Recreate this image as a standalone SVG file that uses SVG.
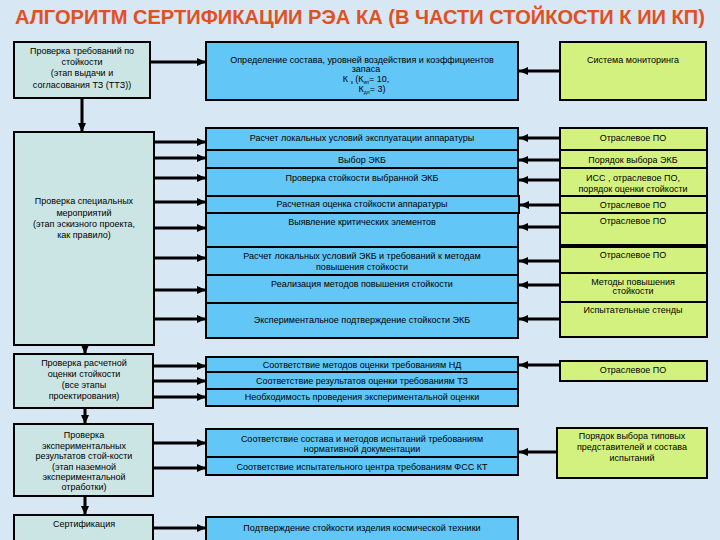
<svg xmlns="http://www.w3.org/2000/svg" width="720" height="540" viewBox="0 0 720 540">
<style>
.bg{fill:#D8E7F4}
.l{fill:#CBE5E4;stroke:#000;stroke-width:2}
.m{fill:#62C6F6;stroke:#000;stroke-width:2}
.r{fill:#D3F17E;stroke:#000;stroke-width:2}
.t{font-family:"Liberation Sans",Arial,sans-serif;font-size:9px;text-anchor:middle;fill:#000}
.s{font-size:5px}
.c line{stroke:#000;stroke-width:3}
.title{font-family:"Liberation Sans",Arial,sans-serif;font-size:20px;font-weight:bold;fill:#E2501E;text-anchor:middle}
</style>
<defs>
<marker id="ah" markerUnits="userSpaceOnUse" markerWidth="9" markerHeight="8" refX="9" refY="4" orient="auto">
<path d="M0,0 L9,4 L0,8 z" fill="#000"/>
</marker>
</defs>
<rect class="bg" x="0" y="0" width="720" height="540"/>
<text class="title" x="360" y="24" textLength="690" lengthAdjust="spacingAndGlyphs">АЛГОРИТМ СЕРТИФИКАЦИИ РЭА КА (В ЧАСТИ СТОЙКОСТИ К ИИ КП)</text>

<g id="left-a"><rect class="l" x="14" y="42" width="136" height="56"/>
<text class="t" x="82" y="54">Проверка требований по</text>
<text class="t" x="82" y="65">стойкости</text>
<text class="t" x="82" y="76">(этап выдачи и</text>
<text class="t" x="82" y="88">согласования ТЗ (ТТЗ))</text></g>

<g id="mid-top"><rect class="m" x="206" y="42" width="312" height="58"/>
<text class="t" x="362" y="63">Определение состава, уровней воздействия и коэффициентов</text>
<text class="t" x="366" y="72">запаса</text>
<text class="t" x="366" y="82">К <tspan class="s" dy="1.5">з</tspan><tspan dy="-1.5"> (К</tspan><tspan class="s" dy="1.5">ип</tspan><tspan dy="-1.5">= 10,</tspan></text>
<text class="t" x="372" y="92">К<tspan class="s" dy="1.5">дл</tspan><tspan dy="-1.5">= 3)</tspan></text></g>

<g id="right-top"><rect class="r" x="560" y="42" width="146" height="58"/>
<text class="t" x="633" y="63">Система мониторинга</text></g>

<g id="left-b"><rect class="l" x="14" y="132" width="140" height="213"/>
<text class="t" x="84" y="204">Проверка специальных</text>
<text class="t" x="84" y="216">мероприятий</text>
<text class="t" x="84" y="227">(этап эскизного проекта,</text>
<text class="t" x="84" y="238">как правило)</text></g>

<g id="mid-1">
<rect class="m" x="206" y="128" width="312" height="22"/><text class="t" x="362" y="141">Расчет локальных  условий  эксплуатации аппаратуры</text>
<rect class="m" x="206" y="150" width="312" height="18"/><text class="t" x="362" y="163">Выбор ЭКБ</text>
<rect class="m" x="206" y="168" width="312" height="28"/><text class="t" x="362" y="181">Проверка стойкости выбранной ЭКБ</text>
<rect class="m" x="206" y="196" width="313" height="17"/><text class="t" x="362" y="207">Расчетная оценка стойкости аппаратуры</text>
<rect class="m" x="206" y="213" width="312" height="34"/><text class="t" x="362" y="225">Выявление критических элементов</text>
<rect class="m" x="206" y="247" width="312" height="28"/><text class="t" x="362" y="259">Расчет локальных условий ЭКБ и требований к методам</text><text class="t" x="362" y="270">повышения стойкости</text>
<rect class="m" x="206" y="275" width="312" height="28"/><text class="t" x="362" y="287">Реализация методов повышения стойкости</text>
<rect class="m" x="206" y="303" width="312" height="35"/><text class="t" x="362" y="323">Экспериментальное подтверждение   стойкости ЭКБ</text>
</g>

<g id="right-1">
<rect class="r" x="560" y="128" width="147" height="22"/><text class="t" x="633" y="141">Отраслевое ПО</text>
<rect class="r" x="560" y="150" width="147" height="18"/><text class="t" x="633" y="163">Порядок выбора ЭКБ</text>
<rect class="r" x="560" y="168" width="147" height="28"/><text class="t" x="633" y="181">ИСС , отраслевое ПО,</text><text class="t" x="633" y="192">порядок оценки стойкости</text>
<rect class="r" x="560" y="196" width="147" height="17"/><text class="t" x="633" y="208">Отраслевое ПО</text>
<rect class="r" x="560" y="213" width="147" height="32"/><text class="t" x="633" y="224">Отраслевое ПО</text>
<rect class="r" x="560" y="247" width="147" height="26"/><text class="t" x="633" y="258">Отраслевое ПО</text>
<rect class="r" x="560" y="273" width="147" height="29"/><text class="t" x="633" y="285">Методы повышения</text><text class="t" x="633" y="294">стойкости</text>
<rect class="r" x="560" y="302" width="147" height="35"/><text class="t" x="633" y="313">Испытательные стенды</text>
</g>

<g id="left-c"><rect class="l" x="14" y="354" width="139" height="54"/>
<text class="t" x="84" y="366">Проверка расчетной</text>
<text class="t" x="84" y="377">оценки стойкости</text>
<text class="t" x="84" y="388">(все этапы</text>
<text class="t" x="84" y="399">проектирования)</text></g>

<g id="mid-2">
<rect class="m" x="206" y="357" width="312" height="15"/><text class="t" x="362" y="368">Соответствие методов оценки требованиям НД</text>
<rect class="m" x="206" y="372" width="312" height="17"/><text class="t" x="362" y="384">Соответствие результатов оценки требованиям ТЗ</text>
<rect class="m" x="206" y="389" width="312" height="17"/><text class="t" x="362" y="400">Необходимость проведения экспериментальной оценки</text>
</g>

<g id="right-2"><rect class="r" x="560" y="361" width="147" height="20"/>
<text class="t" x="633" y="373">Отраслевое ПО</text></g>

<g id="left-d"><rect class="l" x="14" y="424" width="139" height="72"/>
<text class="t" x="84" y="438">Проверка</text>
<text class="t" x="84" y="449">экспериментальных</text>
<text class="t" x="84" y="459">результатов стой-кости</text>
<text class="t" x="84" y="470">(этап наземной</text>
<text class="t" x="84" y="480">экспериментальной</text>
<text class="t" x="84" y="490">отработки)</text></g>

<g id="mid-3">
<rect class="m" x="206" y="429" width="312" height="28"/><text class="t" x="362" y="442">Соответствие состава и методов испытаний требованиям</text><text class="t" x="362" y="452">нормативной документации</text>
<rect class="m" x="206" y="457" width="312" height="18"/><text class="t" x="362" y="470">Соответствие испытательного центра требованиям ФСС КТ</text>
</g>

<g id="right-3"><rect class="r" x="557" y="428" width="150" height="50"/>
<text class="t" x="632" y="439">Порядок выбора типовых</text>
<text class="t" x="632" y="450">представителей и состава</text>
<text class="t" x="632" y="461">испытаний</text></g>

<g id="left-e"><rect class="l" x="14" y="515" width="139" height="30"/>
<text class="t" x="84" y="527">Сертификация</text></g>

<g id="mid-4"><rect class="m" x="206" y="517" width="312" height="28"/>
<text class="t" x="362" y="531">Подтверждение стойкости изделия космической техники</text></g>

<g id="connectors" class="c">
<line x1="150" y1="62" x2="206" y2="62" marker-end="url(#ah)"/>
<line x1="560" y1="71" x2="519" y2="71" marker-end="url(#ah)"/>
<line x1="82" y1="98" x2="82" y2="132" marker-end="url(#ah)"/>
<line x1="154" y1="142" x2="206" y2="142" marker-end="url(#ah)"/>
<line x1="154" y1="158" x2="206" y2="158" marker-end="url(#ah)"/>
<line x1="154" y1="178" x2="206" y2="178" marker-end="url(#ah)"/>
<line x1="154" y1="202" x2="206" y2="202" marker-end="url(#ah)"/>
<line x1="154" y1="228" x2="206" y2="228" marker-end="url(#ah)"/>
<line x1="154" y1="258" x2="206" y2="258" marker-end="url(#ah)"/>
<line x1="154" y1="290" x2="206" y2="290" marker-end="url(#ah)"/>
<line x1="154" y1="319" x2="206" y2="319" marker-end="url(#ah)"/>
<line x1="560" y1="138" x2="519" y2="138" marker-end="url(#ah)"/>
<line x1="560" y1="160" x2="519" y2="160" marker-end="url(#ah)"/>
<line x1="560" y1="180" x2="519" y2="180" marker-end="url(#ah)"/>
<line x1="560" y1="205" x2="520" y2="205" marker-end="url(#ah)"/>
<line x1="560" y1="227" x2="519" y2="227" marker-end="url(#ah)"/>
<line x1="560" y1="261" x2="519" y2="261" marker-end="url(#ah)"/>
<line x1="560" y1="285" x2="519" y2="285" marker-end="url(#ah)"/>
<line x1="560" y1="319" x2="519" y2="319" marker-end="url(#ah)"/>
<line x1="85" y1="345" x2="85" y2="354" marker-end="url(#ah)"/>
<line x1="153" y1="366" x2="206" y2="366" marker-end="url(#ah)"/>
<line x1="153" y1="381" x2="206" y2="381" marker-end="url(#ah)"/>
<line x1="153" y1="397" x2="206" y2="397" marker-end="url(#ah)"/>
<line x1="560" y1="365" x2="519" y2="365" marker-end="url(#ah)"/>
<line x1="85" y1="408" x2="85" y2="424" marker-end="url(#ah)"/>
<line x1="153" y1="443" x2="206" y2="443" marker-end="url(#ah)"/>
<line x1="153" y1="468" x2="206" y2="468" marker-end="url(#ah)"/>
<line x1="557" y1="452" x2="519" y2="452" marker-end="url(#ah)"/>
<line x1="85" y1="496" x2="85" y2="515" marker-end="url(#ah)"/>
<line x1="153" y1="528" x2="206" y2="528" marker-end="url(#ah)"/>
</g>
</svg>
